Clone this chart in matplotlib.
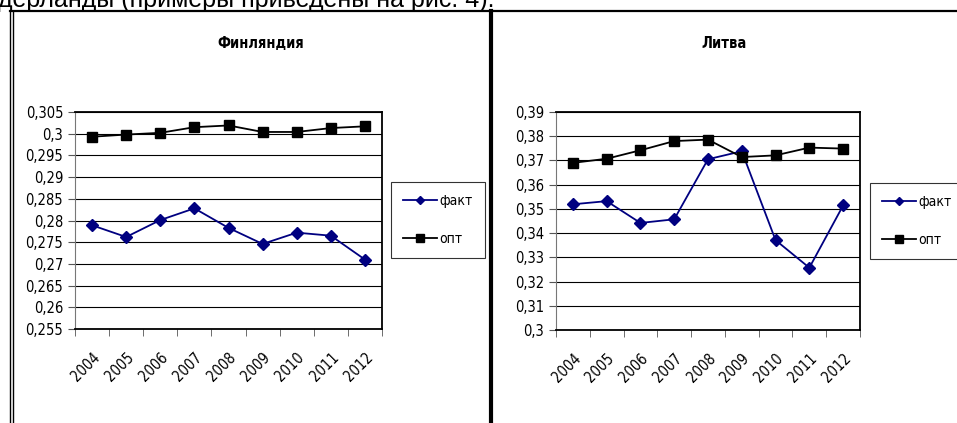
import numpy as np
import matplotlib.pyplot as plt
from matplotlib.lines import Line2D
from matplotlib.ticker import FixedLocator, FuncFormatter

plt.rcParams['font.family'] = ['DejaVu Sans']
plt.rcParams['font.stretch'] = 'condensed'

# years on the x axis
years = ['2004', '2005', '2006', '2007', '2008', '2009', '2010', '2011', '2012']

# Finland: actual vs optimal
fin_fact = [0.2789, 0.2762, 0.2801, 0.2828, 0.2783, 0.2746, 0.2772, 0.2765, 0.2710]
fin_opt = [0.2993, 0.2998, 0.3002, 0.3015, 0.3019, 0.3004, 0.3004, 0.3013, 0.3017]
fin_ticks = [0.255, 0.26, 0.265, 0.27, 0.275, 0.28, 0.285, 0.29, 0.295, 0.3, 0.305]

# Lithuania: actual vs optimal
lit_fact = [0.3519, 0.3532, 0.3442, 0.3457, 0.3705, 0.3738, 0.3371, 0.3257, 0.3514]
lit_opt = [0.3690, 0.3707, 0.3742, 0.3780, 0.3786, 0.3714, 0.3721, 0.3753, 0.3749]
lit_ticks = [0.3, 0.31, 0.32, 0.33, 0.34, 0.35, 0.36, 0.37, 0.38, 0.39]


def comma(v, pos=None):
    #decimal comma, no trailing zeros
    return ('%g' % round(v, 4)).replace('.', ',')


def panel(ax, fact, opt, yticks):
    x = np.arange(len(years))
    ax.plot(x, fact, color='#000080', marker='D', markersize=6, lw=1.3, label='факт')
    ax.plot(x, opt, color='black', marker='s', markersize=7, lw=1.3, label='опт')

    ax.set_xlim(-0.5, len(years) - 0.5)
    ax.set_ylim(yticks[0], yticks[-1])
    ax.yaxis.set_major_locator(FixedLocator(yticks))
    ax.yaxis.set_major_formatter(FuncFormatter(comma))
    ax.grid(axis='y', color='black', lw=0.8)
    ax.set_axisbelow(True)

    ax.set_xticks(x)
    ax.set_xticklabels(years, rotation=45, ha='right', rotation_mode='anchor')
    ax.set_xticks(np.arange(-0.5, len(years)), minor=True)
    ax.tick_params(axis='x', which='major', length=0, pad=15, labelsize=10.5)
    ax.tick_params(axis='x', which='minor', length=5, direction='out', color='#555555')
    ax.tick_params(axis='y', length=5, direction='out', labelsize=10.5, color='#555555')

    for side in ['top', 'right', 'bottom']:
        ax.spines[side].set_color('black')
        ax.spines[side].set_linewidth(1.3)
    ax.spines['left'].set_color('#777777')
    ax.spines['left'].set_linewidth(0.8)


fig = plt.figure(figsize=(9.57, 4.23), dpi=100)
W, H = 957.0, 423.0

ax1 = fig.add_axes([75 / W, 1 - 329 / H, 307 / W, 217 / H])
ax2 = fig.add_axes([556 / W, 1 - 330 / H, 304 / W, 218 / H])
panel(ax1, fin_fact, fin_opt, fin_ticks)
panel(ax2, lit_fact, lit_opt, lit_ticks)

fig.text(261 / W, 1 - 43 / H, 'Финляндия', ha='center', va='center',
         fontsize=10.5, fontweight='bold')
fig.text(724 / W, 1 - 43 / H, 'Литва', ha='center', va='center',
         fontsize=10.5, fontweight='bold')

for ax, cx, cy in [(ax1, 438, 220), (ax2, 917, 221)]:
    leg = ax.legend(loc='center', bbox_to_anchor=(cx / W, 1 - cy / H),
                    bbox_transform=fig.transFigure, fontsize=10, frameon=True,
                    fancybox=False, edgecolor='black', handlelength=2.4,
                    labelspacing=1.7, borderpad=0.9, handletextpad=0.2,
                    markerscale=0.75)
    leg.get_frame().set_linewidth(0.8)

# frame around the two charts
def fline(xs, ys, lw):
    fig.add_artist(Line2D([x / W for x in xs], [1 - y / H for y in ys],
                          color='black', lw=lw, transform=fig.transFigure))

fline([10, 957], [11, 11], 1.6)
fline([10, 10], [11, 423], 1.0)
fline([13, 13], [11, 423], 1.0)
fline([491, 491], [11, 423], 3.0)

# caption line running off the top edge
fig.text(-2 / W, 1 - 7 / H, 'дерланды (примеры приведены на рис. 4).',
         ha='left', va='baseline', fontsize=18, family='Liberation Sans',
         stretch='normal')

fig.savefig('out.png', dpi=100)
